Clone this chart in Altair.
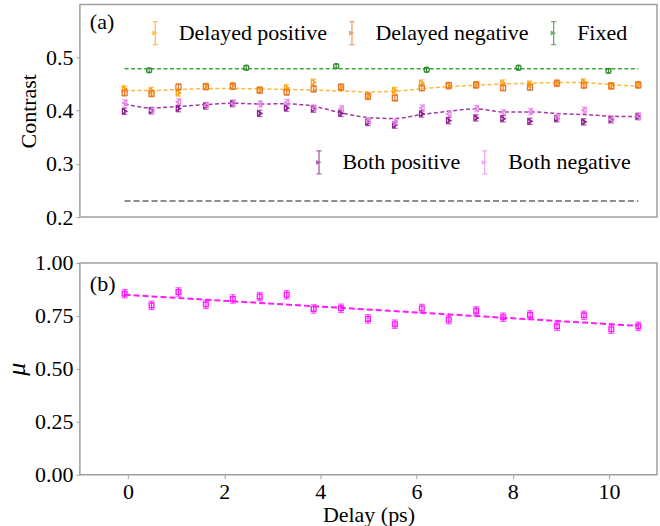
import altair as alt
import pandas as pd

# ---------------- data ----------------
delay = [-0.07, 0.49, 1.05, 1.62, 2.18, 2.74, 3.30, 3.86, 4.43, 4.99,
         5.55, 6.11, 6.67, 7.24, 7.80, 8.36, 8.92, 9.48, 10.05, 10.61]

delayed_pos = [0.441, 0.438, 0.4335, 0.446, 0.447, 0.439, 0.443, 0.4535, 0.444, 0.428,
               0.438, 0.452, 0.447, 0.449, 0.452, 0.450, 0.452, 0.454, 0.447, 0.449]
delayed_neg = [0.4335, 0.432, 0.4447, 0.445, 0.446, 0.4385, 0.435, 0.441, 0.4445, 0.427,
               0.424, 0.443, 0.4475, 0.4485, 0.443, 0.444, 0.4515, 0.448, 0.4465, 0.4485]
delayed_fit = [0.438, 0.438, 0.440, 0.4415, 0.4418, 0.441, 0.440, 0.439, 0.437, 0.4355,
               0.4366, 0.4416, 0.4454, 0.4479, 0.4504, 0.4516, 0.4529, 0.4529, 0.4491, 0.446]

both_pos = [0.399, 0.400, 0.404, 0.409, 0.4135, 0.395, 0.405, 0.403, 0.395, 0.378,
            0.373, 0.394, 0.3815, 0.3865, 0.385, 0.380, 0.385, 0.379, 0.383, 0.389]
both_neg = [0.4147, 0.401, 0.4166, 0.410, 0.414, 0.4128, 0.4153, 0.405, 0.4035, 0.381,
            0.3784, 0.4053, 0.394, 0.4041, 0.396, 0.3985, 0.388, 0.401, 0.384, 0.390]
both_fit = [0.4128, 0.4053, 0.4079, 0.4116, 0.414, 0.4128, 0.413, 0.4085, 0.396, 0.3872,
            0.3853, 0.3928, 0.399, 0.4035, 0.3978, 0.3978, 0.3948, 0.3928, 0.3897, 0.389]

fixed_delay = [0.44, 2.46, 4.33, 6.21, 8.12, 9.99]
fixed_val = [0.476, 0.481, 0.484, 0.477, 0.481, 0.475]
fixed_fit = 0.479
baseline_level = 0.23

contrast_err = 0.006
fixed_err = 0.004

mu = [0.855, 0.800, 0.863, 0.805, 0.830, 0.841, 0.850, 0.783, 0.786, 0.736,
      0.711, 0.785, 0.733, 0.774, 0.744, 0.755, 0.701, 0.753, 0.687, 0.701]
mu_err = 0.02
mu_fit_ends = [0.850, 0.703]

x_ticks = [0, 2, 4, 6, 8, 10]
contrast_ticks = [0.2, 0.3, 0.4, 0.5]
mu_ticks = [0.0, 0.25, 0.5, 0.75, 1.0]

# ---------------- style ----------------
FONT = "Liberation Serif"
FS = 22
GRAY = "#a0a0a0"
W = 578
H_A = 213
H_B = 212

C_DP = "#FFA20F"
C_DN = "#E57A2C"
C_FX = "#2E8B2E"
C_BP = "#8B1A8B"
C_BN = "#E589E5"

IBEAM = "M0,-1L0,1M-0.22,-1L0.22,-1M-0.22,1L0.22,1M-0.2,-0.12L0.08,0L-0.2,0.12Z"


def xenc(show):
    sc = alt.Scale(domain=[-1, 11], nice=False, zero=False)
    if show:
        return alt.X("x:Q", scale=sc,
                     axis=alt.Axis(values=x_ticks, format="d", title="Delay (ps)",
                                   domain=False, grid=False, tickSize=4, tickColor=GRAY,
                                   tickWidth=1, labelPadding=3, titlePadding=2,
                                   labelFont=FONT, labelFontSize=FS, labelColor="black",
                                   titleFont=FONT, titleFontSize=FS, titleFontWeight="normal",
                                   titleColor="black"))
    return alt.X("x:Q", scale=sc, axis=None)


def yenc_a(field):
    return alt.Y(f"{field}:Q", scale=alt.Scale(domain=[0.2, 0.6], nice=False, zero=False),
                 axis=alt.Axis(values=contrast_ticks, format=".1f", title="Contrast",
                               domain=False, grid=False, tickSize=4, tickColor=GRAY,
                               tickWidth=1, labelPadding=3, titlePadding=5,
                               labelFont=FONT, labelFontSize=FS, labelColor="black",
                               titleFont=FONT, titleFontSize=FS, titleFontWeight="normal",
                               titleColor="black"))


def yenc_b(field):
    return alt.Y(f"{field}:Q", scale=alt.Scale(domain=[0, 1], nice=False, zero=False),
                 axis=alt.Axis(values=mu_ticks, format=".2f", title="μ",
                               domain=False, grid=False, tickSize=4, tickColor=GRAY,
                               tickWidth=1, labelPadding=3, titlePadding=5,
                               labelFont=FONT, labelFontSize=FS, labelColor="black",
                               titleFont=FONT, titleFontSize=26, titleFontWeight="normal",
                               titleFontStyle="italic", titleColor="black"))


def long_df(xs, series_map, err):
    rows = []
    for name, vals in series_map.items():
        for xv, v in zip(xs, vals):
            rows.append({"x": xv, "v": v, "lo": v - err, "hi": v + err, "series": name})
    return pd.DataFrame(rows)


def make_legend(x, y):
    return alt.Legend(
        title=None, orient="none", legendX=x, legendY=y, direction="horizontal",
        symbolType=IBEAM, symbolSize=529, symbolStrokeWidth=1.3,
        symbolFillColor="transparent", labelFont=FONT, labelFontSize=FS,
        labelColor="black", labelOffset=11, columnPadding=12, padding=0,
    )


def group(df, domain, colors, shapes, legend, yfun, cap=5, size=26):
    cscale = alt.Scale(domain=domain, range=colors)
    col = alt.Color("series:N", scale=cscale, legend=legend)
    base = alt.Chart(df)
    bars = base.mark_rule(strokeWidth=1.2).encode(
        x=xenc(False), y=yfun("lo"), y2="hi:Q", color=col)
    lo = base.mark_tick(orient="horizontal", size=cap, thickness=1.2).encode(
        x=xenc(False), y=yfun("lo"), color=col)
    hi = base.mark_tick(orient="horizontal", size=cap, thickness=1.2).encode(
        x=xenc(False), y=yfun("hi"), color=col)
    layers = [bars, lo, hi]
    for name, shp in zip(domain, shapes):
        layers.append(
            base.transform_filter(alt.datum.series == name)
            .mark_point(filled=False, size=size, strokeWidth=1.3, opacity=1, shape=shp)
            .encode(x=xenc(False), y=yfun("v"), color=col))
    return alt.layer(*layers)


# ---------------- panel (a) ----------------
df_del = long_df(delay, {"Delayed positive": delayed_pos, "Delayed negative": delayed_neg},
                 contrast_err)
df_fix = long_df(fixed_delay, {"Fixed": fixed_val}, fixed_err)
df_a1 = pd.concat([df_del, df_fix], ignore_index=True)
df_a2 = long_df(delay, {"Both positive": both_pos, "Both negative": both_neg}, contrast_err)

grp1 = group(df_a1, ["Delayed positive", "Delayed negative", "Fixed"], [C_DP, C_DN, C_FX],
             ["triangle-right", "square", "circle"], make_legend(63, 16), yenc_a)
grp2 = group(df_a2, ["Both positive", "Both negative"], [C_BP, C_BN],
             ["triangle-right", "triangle-left"], make_legend(227, 145.5), yenc_a)

fit_del = alt.Chart(pd.DataFrame({"x": delay, "v": delayed_fit})).mark_line(
    color="#FFB83D", strokeDash=[4, 2.5], strokeWidth=1.5, interpolate="monotone"
).encode(x=xenc(False), y=yenc_a("v"))
fit_both = alt.Chart(pd.DataFrame({"x": delay, "v": both_fit})).mark_line(
    color="#A23CA2", strokeDash=[4, 2.5], strokeWidth=1.5, interpolate="monotone"
).encode(x=xenc(False), y=yenc_a("v"))
ends = [delay[0], delay[-1]]
fit_fix = alt.Chart(pd.DataFrame({"x": ends, "v": [fixed_fit, fixed_fit]})).mark_line(
    color="#3DA63D", strokeDash=[4, 2.5], strokeWidth=1.5
).encode(x=xenc(False), y=yenc_a("v"))
base_line = alt.Chart(pd.DataFrame({"x": ends, "v": [baseline_level, baseline_level]})).mark_line(
    color="#8c8c8c", strokeDash=[6, 3], strokeWidth=2
).encode(x=xenc(False), y=yenc_a("v"))

lab_a = alt.Chart(pd.DataFrame({"t": ["(a)"]})).mark_text(
    align="left", baseline="middle", font=FONT, fontSize=FS, color="black"
).encode(x=alt.value(10), y=alt.value(18), text="t:N")

panel_a = alt.layer(fit_fix, fit_del, fit_both, base_line, grp1, grp2, lab_a).resolve_scale(
    color="independent").properties(width=W, height=H_A)

# ---------------- panel (b) ----------------
df_mu = pd.DataFrame({"x": delay, "v": mu, "lo": [m - mu_err for m in mu],
                      "hi": [m + mu_err for m in mu]})
MAG = "#FF1AFF"
b_base = alt.Chart(df_mu)
b_bars = b_base.mark_rule(color=MAG, strokeWidth=1.2).encode(
    x=xenc(True), y=yenc_b("lo"), y2="hi:Q")
b_lo = b_base.mark_tick(color=MAG, orient="horizontal", size=6, thickness=1.2).encode(
    x=xenc(True), y=yenc_b("lo"))
b_hi = b_base.mark_tick(color=MAG, orient="horizontal", size=6, thickness=1.2).encode(
    x=xenc(True), y=yenc_b("hi"))
b_pts = b_base.mark_point(color=MAG, shape="square", filled=False, size=22,
                          strokeWidth=1.4, opacity=1).encode(x=xenc(True), y=yenc_b("v"))
b_fit = alt.Chart(pd.DataFrame({"x": ends, "v": mu_fit_ends})).mark_line(
    color=MAG, strokeDash=[6, 3], strokeWidth=2
).encode(x=xenc(True), y=yenc_b("v"))
lab_b = alt.Chart(pd.DataFrame({"t": ["(b)"]})).mark_text(
    align="left", baseline="middle", font=FONT, fontSize=FS, color="black"
).encode(x=alt.value(10), y=alt.value(21), text="t:N")

panel_b = alt.layer(b_fit, b_bars, b_lo, b_hi, b_pts, lab_b).properties(width=W, height=H_B)

chart = alt.vconcat(panel_a, panel_b, spacing=46, bounds="flush").configure(
    padding={"left": 2, "top": 3, "right": 2, "bottom": 2},
    background="white",
).configure_view(stroke=GRAY, strokeWidth=1.5)

chart.save("out.html", embed_options={"renderer": "svg", "actions": False})
